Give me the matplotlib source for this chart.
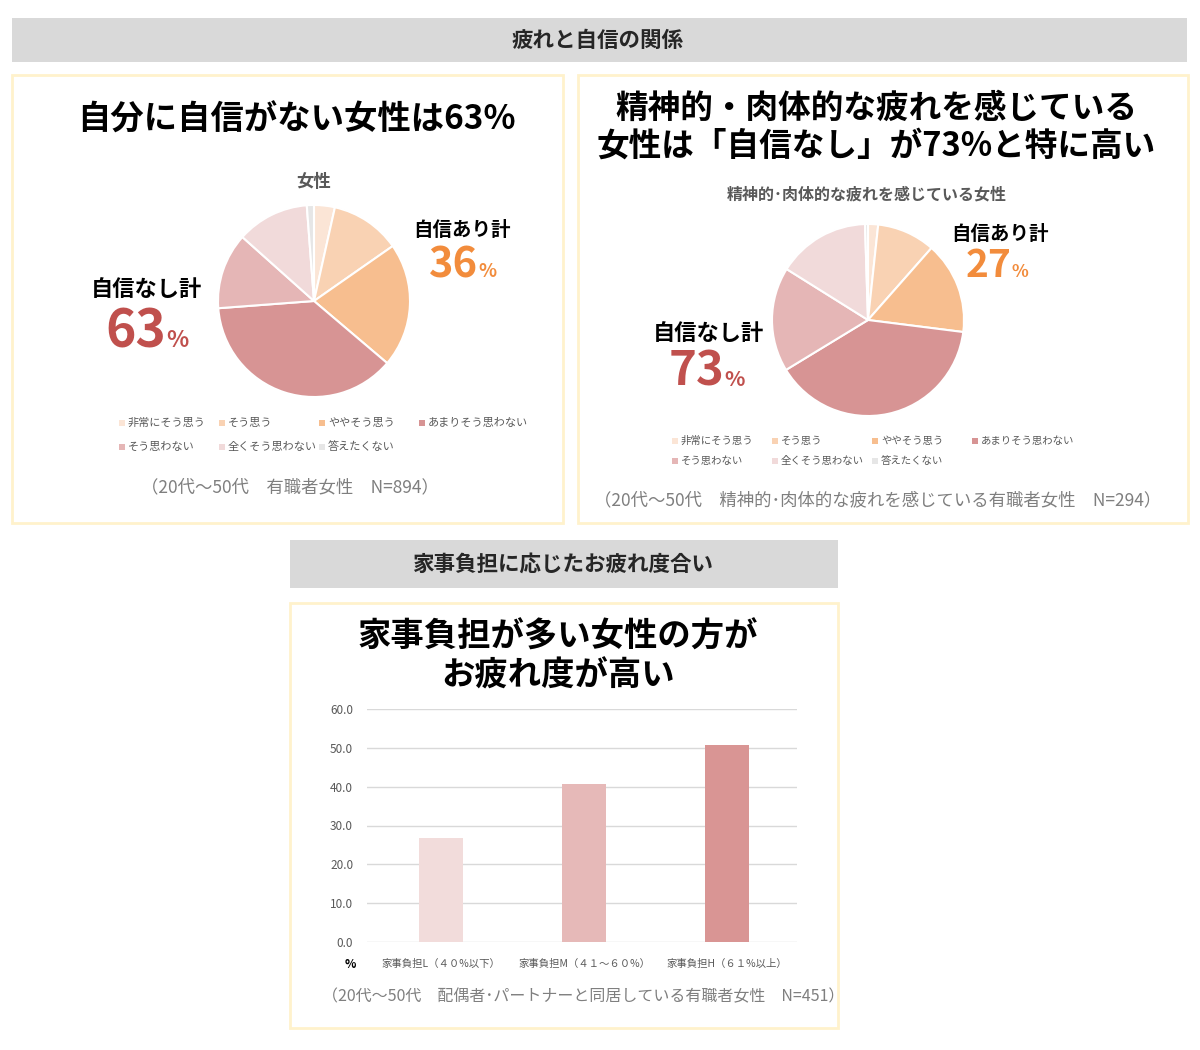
import matplotlib
matplotlib.use("Agg")
import matplotlib.pyplot as plt
from matplotlib.patches import Rectangle

plt.rcParams['font.family'] = ['Noto Sans CJK JP', 'DejaVu Sans']

W, H = 1200, 1050

# ---- data ----
answer_labels = ['非常にそう思う', 'そう思う', 'ややそう思う', 'あまりそう思わない',
                 'そう思わない', '全くそう思わない', '答えたくない']
answer_colors = ['#FBE5D6', '#F9D2B3', '#F7BE8F', '#D79494',
                 '#E5B6B6', '#F1DADA', '#E6E6E6']

women_all = [3.5, 11.8, 20.9, 37.6, 12.8, 12.2, 1.2]        # N=894
women_tired = [1.7, 9.8, 15.5, 39.3, 17.6, 15.6, 0.5]       # N=294
conf_yes = [36, 27]
conf_no = [63, 73]

burden_labels = ['家事負担L（４０%以下）', '家事負担M（４１～６０%）', '家事負担H（６１%以上）']
burden_values = [26.8, 40.8, 50.8]
burden_colors = ['#F2DCDB', '#E6B9B8', '#D99594']
yticks = [0, 10, 20, 30, 40, 50, 60]

fig = plt.figure(figsize=(12, 10.5), dpi=100)
fig.patch.set_facecolor('white')


def fx(px):
    return px / W


def fy(py):
    return 1 - py / H


def box(x0, y0, x1, y1, face='none', edge='none', lw=0):
    r = Rectangle((fx(x0), fy(y1)), fx(x1) - fx(x0), fy(y0) - fy(y1),
                  transform=fig.transFigure, facecolor=face, edgecolor=edge,
                  linewidth=lw, zorder=0)
    fig.add_artist(r)


def txt(x, y, s, size, color='black', weight='normal', ha='center', va='center'):
    fig.text(fx(x), fy(y), s, fontsize=size, color=color, fontweight=weight,
             ha=ha, va=va)


# headers and panels
box(12, 18, 1187, 62, face='#D9D9D9')
txt(598, 40, '疲れと自信の関係', 15.5, '#262626', 'bold')
box(12, 75, 563, 523, edge='#FFF2CC', lw=2)
box(578, 75, 1188, 523, edge='#FFF2CC', lw=2)
box(290, 540, 838, 588, face='#D9D9D9')
txt(563, 564, '家事負担に応じたお疲れ度合い', 15.5, '#262626', 'bold')
box(290, 603, 838, 1028, edge='#FFF2CC', lw=2)


def pie_panel(cx, cy, r, values):
    s = r * 1.05
    ax = fig.add_axes([fx(cx - s), fy(cy + s), 2 * s / W, 2 * s / H])
    ax.pie(values, colors=answer_colors, startangle=90, counterclock=False,
           wedgeprops=dict(edgecolor='white', linewidth=1.5))
    ax.set_xlim(-1.05, 1.05)
    ax.set_ylim(-1.05, 1.05)
    ax.set_aspect('equal')
    ax.axis('off')


def legend(x0, y0, dy, size):
    for i, (lab, col) in enumerate(zip(answer_labels, answer_colors)):
        x = x0 + (i % 4) * 100
        y = y0 + (i // 4) * dy
        box(x - 3, y - 3, x + 3, y + 3, face=col)
        txt(x + 6, y, lab, size, '#595959', ha='left')


def big_pct(x, y, num, color, size):
    fig.text(fx(x), fy(y), str(num), fontsize=size, color=color,
             fontweight='bold', ha='right', va='baseline')
    fig.text(fx(x), fy(y), '%', fontsize=size * 0.45, color=color,
             fontweight='bold', ha='left', va='baseline')


# ---- panel 1 ----
txt(296, 120, '自分に自信がない女性は63%', 24, weight='bold')
txt(314, 182, '女性', 12.5, '#595959', 'bold')
pie_panel(314, 301, 96, women_all)
txt(462, 231, '自信あり計', 14, weight='bold')
big_pct(478, 277, conf_yes[0], '#F28C3C', 30)
txt(146, 290, '自信なし計', 16, weight='bold')
big_pct(166, 347, conf_no[0], '#C0504D', 37)
legend(122, 423, 24, 8)
txt(290, 487, '（20代～50代　有職者女性　N=894）', 12.5, '#7F7F7F')

# ---- panel 2 ----
txt(876, 108, '精神的・肉体的な疲れを感じている', 23.5, weight='bold')
txt(876, 146, '女性は「自信なし」が73%と特に高い', 23.5, weight='bold')
txt(867, 194, '精神的･肉体的な疲れを感じている女性', 11.5, '#595959', 'bold')
pie_panel(868, 320, 96, women_tired)
txt(1000, 234, '自信あり計', 14, weight='bold')
big_pct(1012, 277, conf_yes[1], '#F28C3C', 28)
txt(708, 333, '自信なし計', 16, weight='bold')
big_pct(724, 386, conf_no[1], '#C0504D', 34)
legend(675, 441, 20, 7.5)
txt(878, 500, '（20代～50代　精神的･肉体的な疲れを感じている有職者女性　N=294）', 12.5, '#7F7F7F')

# ---- panel 3 ----
txt(558, 637, '家事負担が多い女性の方が', 24, weight='bold')
txt(558, 676, 'お疲れ度が高い', 24, weight='bold')

ax3 = fig.add_axes([fx(367), fy(942), (797 - 367) / W, (942 - 709) / H])
xpos = list(range(len(burden_values)))
ax3.bar(xpos, burden_values, width=0.31, color=burden_colors, zorder=2)
ax3.set_xlim(-0.52, 2.49)
ax3.set_ylim(0, 60)
ax3.set_yticks(yticks)
ax3.set_yticklabels([f'{v:.1f}' for v in yticks])
ax3.set_xticks(xpos)
ax3.set_xticklabels(burden_labels)
ax3.yaxis.grid(True, color='#D9D9D9', linewidth=1)
ax3.set_axisbelow(True)
for sp in ax3.spines.values():
    sp.set_visible(False)
ax3.tick_params(axis='both', length=0, colors='#595959')
ax3.tick_params(axis='y', labelsize=8.5, pad=10)
ax3.tick_params(axis='x', labelsize=7.5, pad=12)
txt(350, 965, '%', 8.5, 'black', 'bold')
txt(583, 997, '（20代～50代　配偶者･パートナーと同居している有職者女性　N=451）', 11.5, '#7F7F7F')

fig.savefig('out.png', dpi=100, facecolor='white')
